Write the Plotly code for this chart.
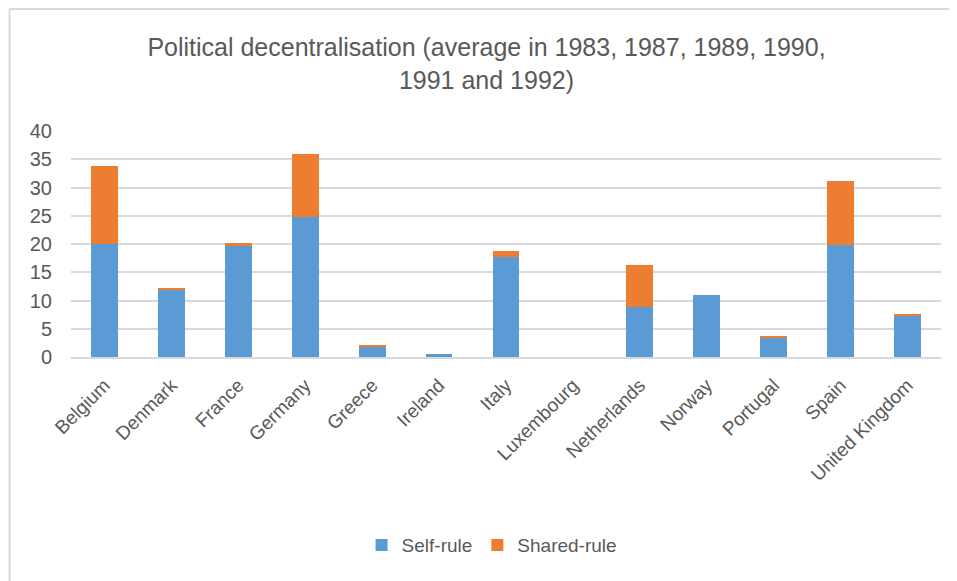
import plotly.graph_objects as go

countries = ["Belgium", "Denmark", "France", "Germany", "Greece", "Ireland", "Italy",
             "Luxembourg", "Netherlands", "Norway", "Portugal", "Spain", "United Kingdom"]
self_rule = [20.0, 12.0, 19.8, 24.8, 1.8, 0.6, 17.7, 0.0, 8.8, 10.9, 3.4, 19.8, 7.3]
shared_rule = [13.8, 0.3, 0.3, 11.1, 0.2, 0.0, 1.1, 0.0, 7.5, 0.0, 0.2, 11.3, 0.2]
y_ticks = [0, 5, 10, 15, 20, 25, 30, 35, 40]

FONT = "Liberation Sans"
GREY = "#595959"
FRAME = "#d9d9d9"

fig = go.Figure()
fig.add_trace(go.Bar(x=countries, y=self_rule, name="Self-rule", marker_color="#5b9bd5",
                     marker_line_width=0))
fig.add_trace(go.Bar(x=countries, y=shared_rule, name="Shared-rule", marker_color="#ed7d31",
                     marker_line_width=0))

fig.update_layout(
    barmode="stack",
    bargap=0.6,
    width=957, height=581,
    margin=dict(l=62.5, r=23.5, t=123, b=232),
    paper_bgcolor="white", plot_bgcolor="white",
    title=dict(text="Political decentralisation (average in 1983, 1987, 1989, 1990,<br>1991 and 1992)",
               x=0.5, xanchor="center", y=0.917, yanchor="top",
               font=dict(family=FONT, size=25, color=GREY)),
    font=dict(family=FONT, color=GREY),
    legend=dict(orientation="h", x=0.484, xanchor="center", y=-0.832, yanchor="middle",
                font=dict(family=FONT, size=19, color=GREY), traceorder="normal"),
    xaxis=dict(tickangle=-45, tickfont=dict(size=19, color=GREY), showgrid=False,
               showline=True, linecolor=FRAME, linewidth=1.5, ticks="", automargin=False,
               ticklabelstandoff=8),
    yaxis=dict(range=[0, 40], tickvals=y_ticks, tickfont=dict(size=20, color=GREY),
               showgrid=True, gridcolor=FRAME, gridwidth=1.5, zeroline=False,
               showline=False, ticks="", ticklabelstandoff=18, automargin=False),
    shapes=[
        dict(type="line", xref="paper", yref="paper", x0=-0.0706, x1=-0.0706, y0=-1.0, y1=1.540,
             line=dict(color=FRAME, width=2)),
        dict(type="line", xref="paper", yref="paper", x0=-0.0706, x1=1.03, y0=1.540, y1=1.540,
             line=dict(color=FRAME, width=2)),
    ],
)

fig.write_html("out.html")
